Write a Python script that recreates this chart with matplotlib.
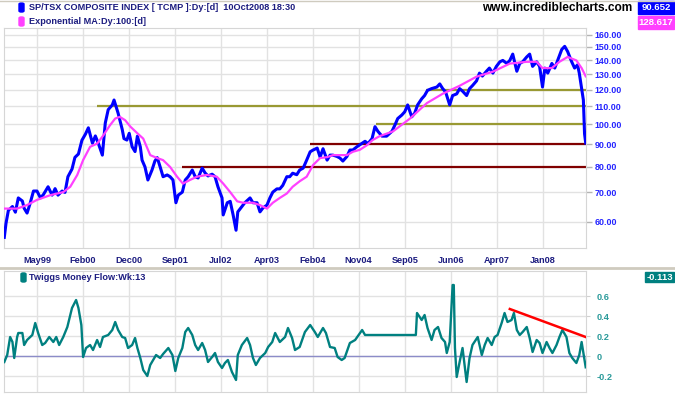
import matplotlib
matplotlib.use('Agg')
import matplotlib.pyplot as plt
from matplotlib.patches import Rectangle, FancyBboxPatch
from matplotlib.lines import Line2D
from matplotlib.ticker import FormatStrFormatter, NullLocator

plt.rcParams['font.family'] = ['Liberation Sans', 'DejaVu Sans']
plt.rcParams['font.weight'] = 'bold'

W, H = 675, 395

# S&P/TSX composite (in hundreds), dates as decimal years
price_t = [1998.81, 1998.84, 1998.88, 1998.95, 1999.00, 1999.05, 1999.12, 1999.15, 1999.20, 1999.25,
           1999.31, 1999.37, 1999.43, 1999.48, 1999.56, 1999.63, 1999.68, 1999.73, 1999.80, 1999.85,
           1999.90, 1999.97, 2000.02, 2000.08, 2000.14, 2000.20, 2000.25, 2000.32, 2000.37, 2000.42,
           2000.49, 2000.54, 2000.59, 2000.66, 2000.69, 2000.76, 2000.83, 2000.86, 2000.91, 2000.95,
           2001.00, 2001.05, 2001.09, 2001.14, 2001.17, 2001.22, 2001.27, 2001.34, 2001.39, 2001.43,
           2001.48, 2001.53, 2001.60, 2001.65, 2001.70, 2001.75, 2001.79, 2001.86, 2001.91, 2001.96,
           2002.03, 2002.08, 2002.13, 2002.20, 2002.25, 2002.30, 2002.37, 2002.42, 2002.47, 2002.54,
           2002.56, 2002.63, 2002.68, 2002.73, 2002.78, 2002.81, 2002.88, 2002.93, 2003.02, 2003.07,
           2003.14, 2003.19, 2003.24, 2003.31, 2003.36, 2003.41, 2003.48, 2003.53, 2003.58, 2003.65,
           2003.70, 2003.75, 2003.82, 2003.87, 2003.93, 2003.99, 2004.05, 2004.10, 2004.17, 2004.22,
           2004.27, 2004.34, 2004.39, 2004.44, 2004.51, 2004.56, 2004.61, 2004.68, 2004.73, 2004.78,
           2004.85, 2004.93, 2004.99, 2005.04, 2005.11, 2005.16, 2005.21, 2005.28, 2005.36, 2005.45,
           2005.50, 2005.55, 2005.62, 2005.67, 2005.72, 2005.79, 2005.84, 2005.89, 2005.96, 2006.01,
           2006.06, 2006.13, 2006.22, 2006.27, 2006.32, 2006.37, 2006.44, 2006.49, 2006.56, 2006.61,
           2006.66, 2006.73, 2006.78, 2006.83, 2006.90, 2006.95, 2007.00, 2007.07, 2007.12, 2007.18,
           2007.24, 2007.30, 2007.35, 2007.42, 2007.47, 2007.52, 2007.59, 2007.64, 2007.69, 2007.76,
           2007.81, 2007.86, 2007.93, 2007.98, 2008.03, 2008.07, 2008.12, 2008.19, 2008.24, 2008.29,
           2008.36, 2008.41, 2008.46, 2008.53, 2008.58, 2008.63, 2008.66, 2008.70, 2008.73, 2008.75,
           2008.77]
price_v = [55.3, 59.6, 63.7, 65.0, 63.1, 68.0, 66.9, 64.4, 62.8, 65.9,
           70.5, 70.5, 68.0, 69.2, 72.1, 69.0, 71.4, 69.0, 70.5, 70.0,
           76.0, 79.1, 84.1, 85.6, 92.0, 95.0, 98.2, 90.6, 94.1, 90.6,
           85.1, 100.7, 108.0, 110.7, 113.6, 106.0, 97.4, 92.8, 92.1, 95.4,
           88.9, 86.7, 94.0, 88.9, 82.9, 80.0, 74.7, 78.7, 82.5, 84.0,
           80.0, 76.0, 76.7, 76.0, 74.7, 66.3, 69.0, 70.1, 74.7, 76.0,
           78.7, 76.0, 75.5, 79.5, 77.5, 76.3, 77.0, 76.0, 72.1, 68.0,
           62.2, 66.3, 66.8, 62.2, 57.4, 63.2, 65.0, 66.3, 68.0, 66.3,
           66.3, 63.2, 64.5, 65.5, 68.0, 70.1, 71.3, 71.3, 72.6, 76.0,
           76.0, 77.4, 76.8, 78.7, 79.5, 82.9, 86.6, 87.4, 88.3, 84.2,
           88.0, 82.9, 85.1, 85.1, 84.5, 83.8, 82.5, 84.5, 87.4, 87.4,
           88.9, 90.4, 91.5, 90.4, 92.8, 98.8, 96.4, 94.0, 94.0, 96.4,
           99.5, 103.1, 105.0, 106.8, 110.7, 104.0, 106.0, 110.7, 114.3, 116.3,
           119.5, 120.6, 121.6, 123.6, 120.6, 118.5, 110.7, 116.3, 117.3, 120.6,
           119.0, 116.3, 120.6, 122.5, 125.6, 130.8, 128.8, 132.1, 134.3, 130.8,
           135.5, 138.8, 139.8, 137.6, 139.8, 144.5, 132.1, 137.6, 138.8, 142.4,
           144.5, 135.5, 138.8, 135.5, 121.6, 134.3, 130.8, 137.6, 134.3, 139.8,
           148.1, 150.5, 146.5, 138.8, 134.3, 136.6, 130.8, 120.6, 113.6, 95.2,
           90.652]

# Exponential MA 100 day
ema_t = [1998.81, 1999.03, 1999.20, 1999.37, 1999.60, 1999.82, 1999.94, 2000.06, 2000.16, 2000.28,
         2000.40, 2000.50, 2000.62, 2000.71, 2000.79, 2000.88, 2000.97, 2001.09, 2001.19, 2001.31,
         2001.43, 2001.53, 2001.65, 2001.77, 2001.87, 2001.99, 2002.11, 2002.28, 2002.45, 2002.56,
         2002.68, 2002.80, 2002.90, 2003.07, 2003.19, 2003.31, 2003.41, 2003.53, 2003.65, 2003.75,
         2003.87, 2003.99, 2004.10, 2004.22, 2004.34, 2004.44, 2004.56, 2004.68, 2004.78, 2004.90,
         2005.02, 2005.12, 2005.24, 2005.47, 2005.76, 2006.05, 2006.32, 2006.61, 2006.90, 2007.18,
         2007.47, 2007.76, 2007.93, 2008.03, 2008.19, 2008.32, 2008.46, 2008.61, 2008.70, 2008.77]
ema_v = [64.3, 64.3, 65.5, 67.3, 69.0, 70.1, 72.1, 76.7, 82.9, 88.9,
         90.4, 94.1, 99.5, 103.1, 104.0, 102.2, 98.8, 95.4, 92.8, 85.1,
         83.8, 82.9, 80.0, 76.0, 73.3, 74.7, 76.0, 76.7, 76.0, 73.3,
         70.1, 66.8, 66.3, 66.3, 65.5, 64.3, 66.3, 68.0, 69.6, 72.1,
         74.2, 76.0, 80.8, 83.8, 84.2, 85.1, 85.1, 85.1, 86.6, 87.5,
         89.6, 92.1, 94.0, 96.4, 103.1, 111.8, 117.4, 122.4, 128.4, 131.8,
         137.5, 138.8, 138.8, 134.3, 134.3, 138.8, 142.4, 139.8, 134.3, 128.617]

# Twiggs Money Flow, 13 week
tmf_t = [1998.81, 1998.86, 1998.91, 1998.95, 1998.98, 1999.03, 1999.05, 1999.12, 1999.15, 1999.20,
         1999.29, 1999.34, 1999.39, 1999.46, 1999.51, 1999.58, 1999.65, 1999.70, 1999.75, 1999.82,
         1999.89, 1999.97, 2000.04, 2000.08, 2000.13, 2000.16, 2000.21, 2000.28, 2000.33, 2000.40,
         2000.45, 2000.50, 2000.59, 2000.66, 2000.71, 2000.76, 2000.83, 2000.88, 2000.93, 2001.00,
         2001.05, 2001.09, 2001.14, 2001.19, 2001.26, 2001.31, 2001.36, 2001.41, 2001.48, 2001.53,
         2001.62, 2001.69, 2001.74, 2001.79, 2001.86, 2001.91, 2001.96, 2002.03, 2002.08, 2002.13,
         2002.20, 2002.25, 2002.30, 2002.37, 2002.42, 2002.47, 2002.54, 2002.59, 2002.64, 2002.71,
         2002.78, 2002.81, 2002.88, 2002.97, 2003.02, 2003.07, 2003.12, 2003.19, 2003.28, 2003.33,
         2003.40, 2003.45, 2003.53, 2003.62, 2003.67, 2003.74, 2003.79, 2003.87, 2003.96, 2004.05,
         2004.13, 2004.18, 2004.27, 2004.32, 2004.39, 2004.47, 2004.52, 2004.59, 2004.64, 2004.73,
         2004.82, 2004.94, 2004.99, 2005.07, 2005.86, 2005.88, 2005.96, 2006.01, 2006.06, 2006.13,
         2006.18, 2006.24, 2006.30, 2006.36, 2006.39, 2006.44, 2006.49, 2006.51, 2006.53, 2006.56,
         2006.61, 2006.66, 2006.73, 2006.78, 2006.83, 2006.92, 2006.99, 2007.04, 2007.09, 2007.16,
         2007.21, 2007.26, 2007.33, 2007.38, 2007.43, 2007.50, 2007.54, 2007.59, 2007.64, 2007.69,
         2007.76, 2007.81, 2007.86, 2007.93, 2007.98, 2008.03, 2008.10, 2008.15, 2008.20, 2008.27,
         2008.32, 2008.37, 2008.44, 2008.49, 2008.54, 2008.61, 2008.66, 2008.70, 2008.73, 2008.77]
tmf_v = [-0.06, 0.01, 0.19, 0.14, -0.02, 0.19, 0.23, 0.23, 0.11, 0.16,
         0.21, 0.33, 0.23, 0.11, 0.13, 0.19, 0.14, 0.19, 0.11, 0.19,
         0.29, 0.48, 0.56, 0.48, 0.31, -0.01, 0.08, 0.11, 0.06, 0.16,
         0.09, 0.19, 0.21, 0.26, 0.34, 0.26, 0.19, 0.18, 0.08, 0.11,
         0.18, 0.08, -0.02, -0.14, -0.20, -0.09, -0.04, 0.01, -0.02, 0.02,
         0.08, 0.01, -0.15, -0.02, 0.08, 0.24, 0.28, 0.21, 0.11, 0.06,
         0.13, 0.06, -0.06, -0.01, 0.03, -0.06, -0.12, -0.07, -0.04, -0.16,
         -0.24, 0.01, 0.11, 0.18, 0.11, -0.02, -0.09, -0.02, 0.03, 0.09,
         0.14, 0.23, 0.14, 0.19, 0.28, 0.18, 0.06, 0.09, 0.24, 0.31,
         0.24, 0.19, 0.28, 0.23, 0.09, 0.08, -0.01, -0.04, -0.02, 0.13,
         0.16, 0.26, 0.21, 0.21, 0.21, 0.43, 0.36, 0.41, 0.28, 0.16,
         0.26, 0.29, 0.18, 0.14, 0.03, 0.14, 0.71, 0.71, 0.08, -0.21,
         -0.06, 0.08, -0.26, -0.02, 0.11, 0.19, 0.01, 0.11, 0.18, 0.11,
         0.19, 0.21, 0.33, 0.43, 0.34, 0.36, 0.43, 0.26, 0.21, 0.24,
         0.29, 0.18, 0.04, 0.16, 0.13, 0.03, 0.14, 0.08, 0.03, 0.11,
         0.19, 0.26, 0.19, 0.03, -0.02, -0.07, 0.01, 0.14, 0.03, -0.113]

# drawn support / resistance lines
olive_lvls = [110, 120, 100]
olive_from = [2000.40, 2006.04, 2005.17]
maroon_lvls = [90, 80]
maroon_from = [2004.05, 2001.86]
trend_t = [2007.47, 2008.77]
trend_v = [0.47, 0.19]

tick_pos = [1999.37, 2000.16, 2000.95, 2001.74, 2002.52, 2003.31,
            2004.10, 2004.88, 2005.67, 2006.46, 2007.25, 2008.03]
tick_lbl = ['May99', 'Feb00', 'Dec00', 'Sep01', 'Jul02', 'Apr03',
            'Feb04', 'Nov04', 'Sep05', 'Jun06', 'Apr07', 'Jan08']
price_ticks = [60, 70, 80, 90, 100, 110, 120, 130, 140, 150, 160]
tmf_ticks = [-0.2, 0, 0.2, 0.4, 0.6]
tmf_lbl = ['-0.2', '0', '0.2', '0.4', '0.6']

X0, X1 = 1998.805, 2008.775


def fx(px):
    return px / W


def fy(py):
    return 1 - py / H


fig = plt.figure(figsize=(W / 100, H / 100), dpi=100)
fig.patch.set_facecolor('white')

ax1 = fig.add_axes([fx(4), fy(248), 582 / W, 220 / H])
ax2 = fig.add_axes([fx(4), fy(392), 582 / W, 121 / H])

for ax in (ax1, ax2):
    ax.set_xlim(X0, X1)
    ax.set_xticks(tick_pos)
    ax.grid(True, color='#e2e2e2', lw=1)
    ax.set_axisbelow(True)
    ax.yaxis.tick_right()
    for s in ax.spines.values():
        s.set_color('#d6d6d6')

# price panel
ax1.set_yscale('log')
ax1.set_ylim(52.3, 165.7)
ax1.set_yticks(price_ticks)
ax1.yaxis.set_major_formatter(FormatStrFormatter('%.2f'))
ax1.yaxis.set_minor_locator(NullLocator())
ax1.set_xticklabels(tick_lbl)
ax1.tick_params(axis='x', length=0, pad=6, labelsize=6.6, labelcolor='#1c1c80')
ax1.tick_params(axis='y', length=4, width=1, color='#b4b4b4', pad=2,
                labelsize=6.4, labelcolor='#2424ff')

for lvl, t0 in zip(olive_lvls, olive_from):
    ax1.hlines(lvl, t0, X1, color='#999933', lw=1.6, zorder=2)
for lvl, t0 in zip(maroon_lvls, maroon_from):
    ax1.hlines(lvl, t0, X1, color='#800000', lw=1.6, zorder=2)

ax1.plot(price_t, price_v, color='#0000ff', lw=2.2, zorder=3)
ax1.plot(ema_t, ema_v, color='#ff40ff', lw=1.6, zorder=4)

# money flow panel
ax2.set_ylim(-0.36, 0.85)
ax2.set_yticks(tmf_ticks)
ax2.set_yticklabels(tmf_lbl)
ax2.tick_params(axis='x', length=0, labelbottom=False)
ax2.tick_params(axis='y', length=3, color='#d0d0d0', pad=5,
                labelsize=6.6, labelcolor='#2a9a9a')
ax2.axhline(0, color='#8c8cc8', lw=1, zorder=2)
ax2.plot(tmf_t, tmf_v, color='#008080', lw=1.7, zorder=3)
ax2.plot(trend_t, trend_v, color='#ff0000', lw=1.8, zorder=4)

# frame lines
fig.add_artist(Line2D([0, 1], [fy(0.5), fy(0.5)], transform=fig.transFigure,
                      color='#cfcbbf', lw=1))
fig.add_artist(Line2D([0, 1], [fy(268), fy(268)], transform=fig.transFigure,
                      color='#cfcbbf', lw=2))

# legends
def swatch(px, py, color):
    fig.patches.append(FancyBboxPatch((fx(px), fy(py + 9)), 5 / W, 9 / H,
                                      boxstyle='round,pad=0,rounding_size=0.003',
                                      transform=fig.transFigure, facecolor=color,
                                      edgecolor=color))


swatch(19, 3, '#0000ff')
swatch(19, 17, '#ff40ff')
swatch(21, 273, '#008080')
fig.text(fx(29), fy(7.5), 'SP/TSX COMPOSITE INDEX [ TCMP ]:Dy:[d]  10Oct2008 18:30',
         fontsize=6.6, color='#1c1c80', va='center')
fig.text(fx(29), fy(21.5), 'Exponential MA:Dy:100:[d]',
         fontsize=6.6, color='#1c1c80', va='center')
fig.text(fx(29), fy(277.5), 'Twiggs Money Flow:Wk:13',
         fontsize=6.6, color='#1c1c80', va='center')
fig.text(fx(632), fy(8), 'www.incrediblecharts.com', fontsize=8.6,
         color='black', ha='right', va='center')


# value boxes
def value_box(x0, y0, x1, y1, color, txt):
    fig.patches.append(Rectangle((fx(x0), fy(y1)), (x1 - x0) / W, (y1 - y0) / H,
                                 transform=fig.transFigure, facecolor=color,
                                 edgecolor=color))
    fig.text(fx((x0 + x1) / 2), fy((y0 + y1) / 2), txt, fontsize=6.8,
             color='white', ha='center', va='center')


value_box(638, 1, 674, 14, '#0000ff', '90.652')
value_box(638, 16, 674, 29, '#ff40ff', '128.617')
value_box(645, 272, 674, 282, '#008080', '-0.113')

fig.savefig('out.png', dpi=100)
